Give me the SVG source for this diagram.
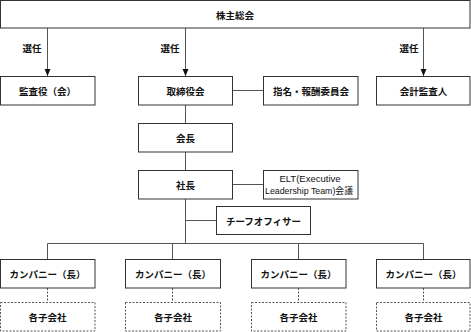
<svg xmlns="http://www.w3.org/2000/svg" width="471" height="332" viewBox="0 0 471 332">
<defs>
<style>
.box{fill:#fff;stroke:#333;stroke-width:1}
.dbox{fill:#fff;stroke:#555;stroke-width:1;stroke-dasharray:2 1.5}
.ln{fill:none;stroke:#555;stroke-width:1}
.dln{fill:none;stroke:#555;stroke-width:1;stroke-dasharray:2 1.5}
.t{font-family:"Noto Sans CJK JP","Noto Sans CJK SC",sans-serif;font-size:9.5px;font-weight:bold;fill:#111;text-anchor:middle;dominant-baseline:central}
.e{font-family:"Liberation Sans","Noto Sans CJK JP",sans-serif;font-size:9.5px;fill:#111;text-anchor:middle}
.ah{fill:#111}
</style>
</defs>
<g id="connectors">
<line class="ln" x1="47.5" y1="28" x2="47.5" y2="76"/>
<line class="ln" x1="185.5" y1="28" x2="185.5" y2="76"/>
<line class="ln" x1="423.5" y1="28" x2="423.5" y2="76"/>
<path class="ah" d="M44.5,69 L50.5,69 L47.5,76 Z"/>
<path class="ah" d="M182.5,69 L188.5,69 L185.5,76 Z"/>
<path class="ah" d="M420.5,69 L426.5,69 L423.5,76 Z"/>
<text class="t" x="32" y="48">選任</text>
<text class="t" x="170" y="48">選任</text>
<text class="t" x="409" y="48">選任</text>
<line class="ln" x1="232" y1="90.5" x2="263" y2="90.5"/>
<line class="ln" x1="185.5" y1="105" x2="185.5" y2="123"/>
<line class="ln" x1="185.5" y1="152" x2="185.5" y2="170"/>
<line class="ln" x1="232" y1="184.5" x2="263" y2="184.5"/>
<line class="ln" x1="185.5" y1="199" x2="185.5" y2="243.5"/>
<line class="ln" x1="185.5" y1="220.5" x2="216" y2="220.5"/>
<line class="ln" x1="47.5" y1="243.5" x2="423.5" y2="243.5"/>
<line class="ln" x1="47.5" y1="243.5" x2="47.5" y2="259"/>
<line class="ln" x1="172.5" y1="243.5" x2="172.5" y2="259"/>
<line class="ln" x1="298.5" y1="243.5" x2="298.5" y2="259"/>
<line class="ln" x1="423.5" y1="243.5" x2="423.5" y2="259"/>
<line class="dln" x1="47.5" y1="288" x2="47.5" y2="302"/>
<line class="dln" x1="172.5" y1="288" x2="172.5" y2="302"/>
<line class="dln" x1="298.5" y1="288" x2="298.5" y2="302"/>
<line class="dln" x1="423.5" y1="288" x2="423.5" y2="302"/>
</g>
<g id="shareholders"><rect class="box" x="0.5" y="0.5" width="469.5" height="27.5"/><text class="t" x="235" y="15">株主総会</text></g>
<g id="auditors"><rect class="box" x="0.5" y="76.5" width="94.5" height="28.5"/><text class="t" x="47.5" y="91">監査役（会）</text></g>
<g id="board"><rect class="box" x="138.5" y="76.5" width="94" height="28.5"/><text class="t" x="185.5" y="91">取締役会</text></g>
<g id="committee"><rect class="box" x="263.5" y="76.5" width="94.5" height="28.5"/><text class="t" x="311" y="91">指名・報酬委員会</text></g>
<g id="accounting-auditor"><rect class="box" x="376.5" y="76.5" width="93.5" height="28.5"/><text class="t" x="423.5" y="91">会計監査人</text></g>
<g id="chairman"><rect class="box" x="138.5" y="123.5" width="94" height="28.5"/><text class="t" x="185.5" y="138">会長</text></g>
<g id="president"><rect class="box" x="138.5" y="170.5" width="94" height="28.5"/><text class="t" x="185.5" y="185">社長</text></g>
<g id="elt"><rect class="box" x="263.5" y="170.5" width="94.5" height="28.5"/><text class="e" x="310" y="182">ELT(Executive</text><text class="e" x="309" y="194" textLength="88" lengthAdjust="spacingAndGlyphs">Leadership Team)会議</text></g>
<g id="chief-officer"><rect class="box" x="216.5" y="206.5" width="94" height="28"/><text class="t" x="263.5" y="221">チーフオフィサー</text></g>
<g id="company1"><rect class="box" x="0.5" y="259.5" width="94.5" height="28.5"/><text class="t" x="47.5" y="274">カンパニー（長）</text></g>
<g id="company2"><rect class="box" x="125.5" y="259.5" width="95" height="28.5"/><text class="t" x="173" y="274">カンパニー（長）</text></g>
<g id="company3"><rect class="box" x="251.5" y="259.5" width="94.5" height="28.5"/><text class="t" x="298.5" y="274">カンパニー（長）</text></g>
<g id="company4"><rect class="box" x="376.5" y="259.5" width="93.5" height="28.5"/><text class="t" x="423.5" y="274">カンパニー（長）</text></g>
<g id="sub1"><rect class="dbox" x="0.5" y="302.5" width="94.5" height="28.5"/><text class="t" x="47.5" y="317">各子会社</text></g>
<g id="sub2"><rect class="dbox" x="125.5" y="302.5" width="95" height="28.5"/><text class="t" x="173" y="317">各子会社</text></g>
<g id="sub3"><rect class="dbox" x="251.5" y="302.5" width="94.5" height="28.5"/><text class="t" x="298.5" y="317">各子会社</text></g>
<g id="sub4"><rect class="dbox" x="376.5" y="302.5" width="93.5" height="28.5"/><text class="t" x="423.5" y="317">各子会社</text></g>
</svg>
